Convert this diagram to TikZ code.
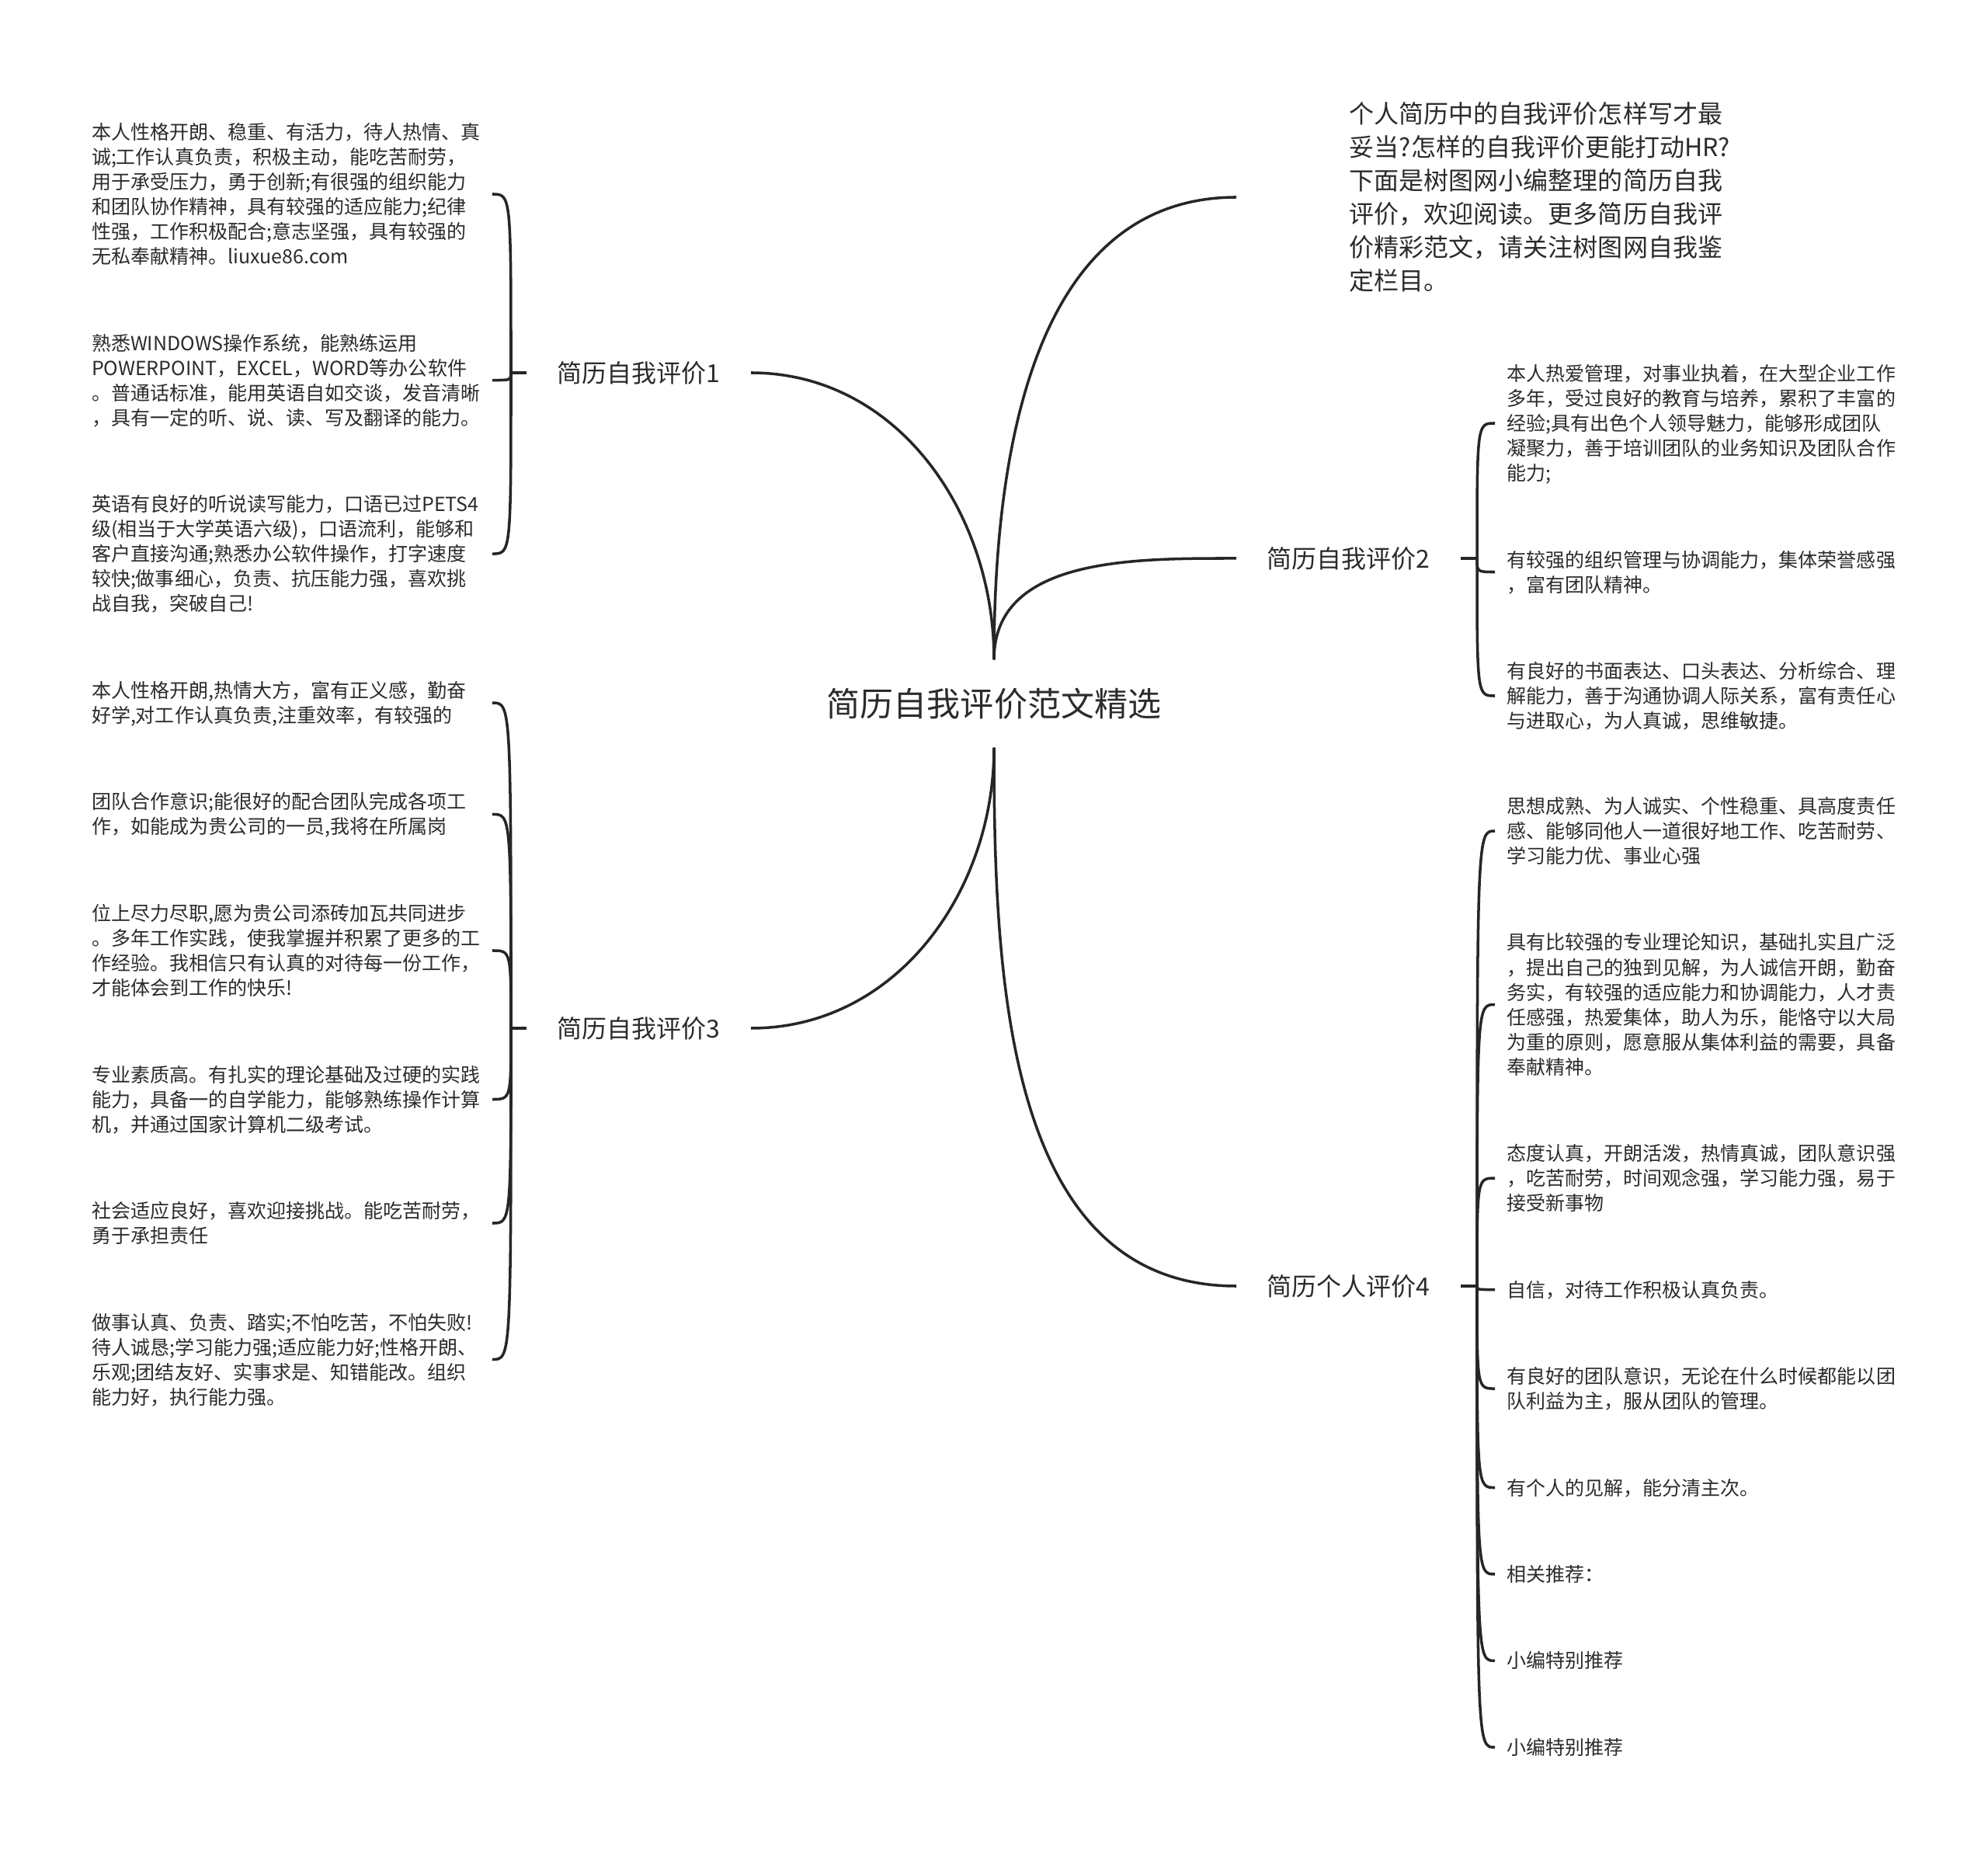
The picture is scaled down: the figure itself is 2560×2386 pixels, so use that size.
\documentclass[tikz,border=0pt]{standalone}
\usepackage{fontspec}
\setmainfont{Noto Sans CJK SC}
\usepackage{xcolor}
\usepackage{tikz}
\usetikzlibrary{positioning}
\definecolor{mmink}{HTML}{2B2B2B}
\definecolor{mmline}{HTML}{262626}
\newcommand{\lstrut}{\rule[-0.065cm]{0pt}{0.32cm}}

\begin{document}
\begin{tikzpicture}[
    x=0.01cm, y=-0.01cm,
    text=mmink,
    link/.style={draw=mmline, line width=1pt},
    rootbox/.style={font=\fontsize{0.43cm}{0.52cm}\selectfont, minimum height=1.12cm, inner xsep=0pt},
    intro/.style={font=\fontsize{0.32cm}{0.43cm}\selectfont, align=left, inner xsep=1.45cm, inner ysep=0pt},
    branch/.style={font=\fontsize{0.32cm}{0.4cm}\selectfont, inner xsep=0.39cm, inner ysep=0pt},
    leaf/.style={font=\fontsize{0.25cm}{0.32cm}\selectfont, text width=5cm, align=left, inner xsep=0.15cm, inner ysep=0pt,
      execute at begin node=\lstrut, execute at end node=\lstrut},
    node distance=0.78cm,
  ]
  \useasboundingbox (0,0) rectangle (2560,2386);

  \node[rootbox] (r) at (1280,906) {简历自我评价范文精选};

  \node[intro, anchor=west] (t) at (1592,254) {个人简历中的自我评价怎样写才最\\妥当?怎样的自我评价更能打动HR?\\下面是树图网小编整理的简历自我\\评价，欢迎阅读。更多简历自我评\\价精彩范文，请关注树图网自我鉴\\定栏目。};

  \node[branch, anchor=east] (n1) at (967,480) {简历自我评价1};
  \node[branch, anchor=west] (n2) at (1592,719) {简历自我评价2};
  \node[branch, anchor=east] (n3) at (967,1324) {简历自我评价3};
  \node[branch, anchor=west] (n4) at (1592,1656) {简历个人评价4};
  \coordinate (k1) at (658,480);
  \coordinate (k2) at (1902,719);
  \coordinate (k3) at (658,1324);
  \coordinate (k4) at (1902,1656);

  \node[leaf, anchor=east] (a1) at (634,250) {本人性格开朗、稳重、有活力，待人热情、真\\诚;工作认真负责，积极主动，能吃苦耐劳，\\用于承受压力，勇于创新;有很强的组织能力\\和团队协作精神，具有较强的适应能力;纪律\\性强，工作积极配合;意志坚强，具有较强的\\无私奉献精神。liuxue86.com};
  \node[leaf, below=of a1] (a2) {熟悉WINDOWS操作系统，能熟练运用\\POWERPOINT，EXCEL，WORD等办公软件\\。普通话标准，能用英语自如交谈，发音清晰\\，具有一定的听、说、读、写及翻译的能力。};
  \node[leaf, below=of a2] (a3) {英语有良好的听说读写能力，口语已过PETS4\\级(相当于大学英语六级)，口语流利，能够和\\客户直接沟通;熟悉办公软件操作，打字速度\\较快;做事细心，负责、抗压能力强，喜欢挑\\战自我，突破自己!};

  \node[leaf, anchor=west] (b1) at (1925,545) {本人热爱管理，对事业执着，在大型企业工作\\多年，受过良好的教育与培养，累积了丰富的\\经验;具有出色个人领导魅力，能够形成团队\\凝聚力，善于培训团队的业务知识及团队合作\\能力;};
  \node[leaf, below=of b1] (b2) {有较强的组织管理与协调能力，集体荣誉感强\\，富有团队精神。};
  \node[leaf, below=of b2] (b3) {有良好的书面表达、口头表达、分析综合、理\\解能力，善于沟通协调人际关系，富有责任心\\与进取心，为人真诚，思维敏捷。};

  \node[leaf, anchor=east] (c1) at (634,905) {本人性格开朗,热情大方，富有正义感，勤奋\\好学,对工作认真负责,注重效率，有较强的};
  \node[leaf, below=of c1] (c2) {团队合作意识;能很好的配合团队完成各项工\\作，如能成为贵公司的一员,我将在所属岗};
  \node[leaf, below=of c2] (c3) {位上尽力尽职,愿为贵公司添砖加瓦共同进步\\。多年工作实践，使我掌握并积累了更多的工\\作经验。我相信只有认真的对待每一份工作，\\才能体会到工作的快乐!};
  \node[leaf, below=of c3] (c4) {专业素质高。有扎实的理论基础及过硬的实践\\能力，具备一的自学能力，能够熟练操作计算\\机，并通过国家计算机二级考试。};
  \node[leaf, below=of c4] (c5) {社会适应良好，喜欢迎接挑战。能吃苦耐劳，\\勇于承担责任};
  \node[leaf, below=of c5] (c6) {做事认真、负责、踏实;不怕吃苦，不怕失败!\\待人诚恳;学习能力强;适应能力好;性格开朗、\\乐观;团结友好、实事求是、知错能改。组织\\能力好，执行能力强。};

  \node[leaf, anchor=west] (d1) at (1925,1070) {思想成熟、为人诚实、个性稳重、具高度责任\\感、能够同他人一道很好地工作、吃苦耐劳、\\学习能力优、事业心强};
  \node[leaf, below=of d1] (d2) {具有比较强的专业理论知识，基础扎实且广泛\\，提出自己的独到见解，为人诚信开朗，勤奋\\务实，有较强的适应能力和协调能力，人才责\\任感强，热爱集体，助人为乐，能恪守以大局\\为重的原则，愿意服从集体利益的需要，具备\\奉献精神。};
  \node[leaf, below=of d2] (d3) {态度认真，开朗活泼，热情真诚，团队意识强\\，吃苦耐劳，时间观念强，学习能力强，易于\\接受新事物};
  \node[leaf, below=of d3] (d4) {自信，对待工作积极认真负责。};
  \node[leaf, below=of d4] (d5) {有良好的团队意识，无论在什么时候都能以团\\队利益为主，服从团队的管理。};
  \node[leaf, below=of d5] (d6) {有个人的见解，能分清主次。};
  \node[leaf, below=of d6] (d7) {相关推荐：};
  \node[leaf, below=of d7] (d8) {小编特别推荐};
  \node[leaf, below=of d8] (d9) {小编特别推荐};

  \draw[link] (r.north) to[out=90, in=180] (t.west);
  \draw[link] (r.north) to[out=90, in=180] (n2.west);
  \draw[link] (r.north) to[out=90, in=0] (n1.east);
  \draw[link] (r.south) to[out=-90, in=0] (n3.east);
  \draw[link] (r.south) to[out=-90, in=180] (n4.west);

  \draw[link] (n1.west) -- (k1);
  \draw[link] (n2.east) -- (k2);
  \draw[link] (n3.west) -- (k3);
  \draw[link] (n4.east) -- (k4);

  \foreach \x in {a1,a2,a3}
    \draw[link] (k1) .. controls (k1 |- \x.east) and (k1 |- \x.east) .. (\x.east);
  \foreach \x in {c1,c2,c3,c4,c5,c6}
    \draw[link] (k3) .. controls (k3 |- \x.east) and (k3 |- \x.east) .. (\x.east);
  \foreach \x in {b1,b2,b3}
    \draw[link] (k2) .. controls (k2 |- \x.west) and (k2 |- \x.west) .. (\x.west);
  \foreach \x in {d1,d2,d3,d4,d5,d6,d7,d8,d9}
    \draw[link] (k4) .. controls (k4 |- \x.west) and (k4 |- \x.west) .. (\x.west);
\end{tikzpicture}
\end{document}
